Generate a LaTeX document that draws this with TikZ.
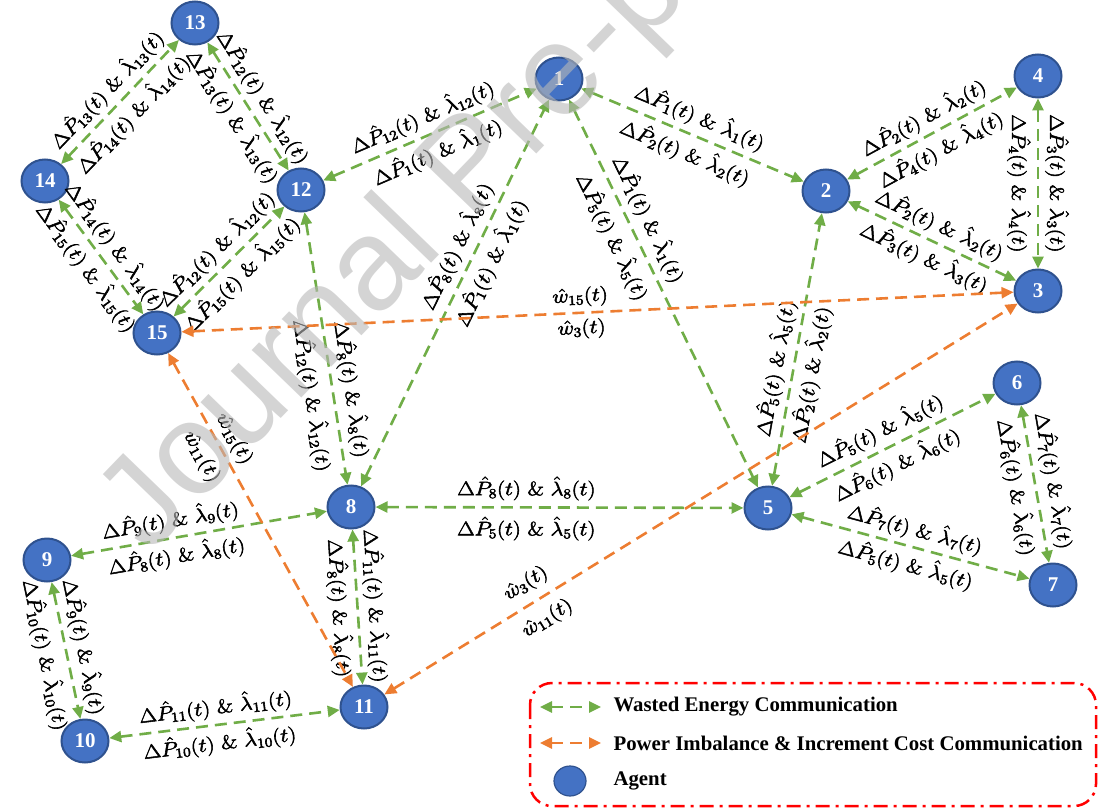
\RequirePackage{fix-cm}
\documentclass[tikz,border=0pt]{standalone}
\usepackage{fontspec}
\usetikzlibrary{arrows.meta,shapes.geometric}
\newfontfamily\numfont{Liberation Serif}
\newfontfamily\wmfont{Liberation Sans}

\definecolor{agentfill}{HTML}{4472C4}
\definecolor{agentline}{HTML}{2F528F}
\definecolor{wgreen}{HTML}{70AD47}
\definecolor{worange}{HTML}{ED7D31}
\definecolor{legred}{HTML}{FF0000}

% slightly heavier glyphs: fill and stroke the outlines
\newcommand\heavytext[1]{{\color{black}\special{pdf:literal direct 2 Tr 0.5 w}#1\special{pdf:literal direct 0 Tr 0.4 w}}}
% exchanged quantities on a link
\newcommand\dpl[1]{\heavytext{\scalebox{1.15}[1]{$\Delta\hat{P}_{#1}(t)\ \&\ \hat{\lambda}_{#1}(t)$}}}
\newcommand\wh[1]{\heavytext{\scalebox{1.15}[1]{$\hat{w}_{#1}(t)$}}}

\tikzset{
  agent/.style={ellipse, fill=agentfill, draw=agentline, line width=2pt,
    minimum width=47pt, minimum height=43pt, inner sep=0pt, text=white,
    font=\numfont\bfseries\fontsize{21}{21}\selectfont},
  gline/.style={draw=wgreen, line width=2.6pt, dash pattern=on 12pt off 7pt,
    {Triangle[length=12pt,width=11pt]}-{Triangle[length=12pt,width=11pt]}},
  oline/.style={gline, draw=worange},
  lab/.style={sloped, font=\fontsize{19.5}{22}\selectfont, inner sep=2pt},
  labv/.style={font=\fontsize{19.5}{22}\selectfont, inner sep=2pt},
  legtext/.style={anchor=west, font=\numfont\bfseries\fontsize{20.8}{22}\selectfont},
  wmark/.style={text=black!28, text opacity=0.6,
    font=\wmfont\fontsize{130}{130}\selectfont},
}

\begin{document}
\begin{tikzpicture}[x=1pt, y=-1pt]
\useasboundingbox (0,0) rectangle (1099,810);
\begin{scope}
\clip (0,0) rectangle (1099,810);

% agents
\node[agent] (n1)  at (559,79)  {1};
\node[agent] (n2)  at (826,191) {2};
\node[agent] (n3)  at (1038,291) {3};
\node[agent] (n4)  at (1038,76) {4};
\node[agent] (n5)  at (768,508) {5};
\node[agent] (n6)  at (1017,383) {6};
\node[agent] (n7)  at (1053,585) {7};
\node[agent] (n8)  at (351,507) {8};
\node[agent] (n9)  at (47,560)  {9};
\node[agent] (n10) at (85,741)  {10};
\node[agent] (n11) at (364,707) {11};
\node[agent] (n12) at (301,190) {12};
\node[agent] (n13) at (195,23)  {13};
\node[agent] (n14) at (45,181)  {14};
\node[agent] (n15) at (157,333) {15};

% wasted energy links
\draw[gline] (n14) -- node[lab,above=3pt]{\dpl{13}} node[lab,below=3pt]{\dpl{14}} (n13);
\draw[gline] (n13) -- node[lab,above=3pt]{\dpl{12}} node[lab,below=3pt]{\dpl{13}} (n12);
\draw[gline] (n14) -- node[lab,above=3pt]{\dpl{14}} node[lab,below=3pt]{\dpl{15}} (n15);
\draw[gline] (n15) -- node[lab,above=3pt]{\dpl{12}} node[lab,below=3pt]{\dpl{15}} (n12);
\draw[gline] (n12) -- node[lab,above=4pt]{\dpl{12}} node[lab,below=4pt]{\dpl{1}} (n1);
\draw[gline] (n12) -- node[lab,above=4pt,pos=.66]{\dpl{8}} node[lab,below=6pt,pos=.66]{\dpl{12}} (n8);
\draw[gline] (n8) -- node[lab,above=4pt,pos=.6]{\dpl{8}} node[lab,below=4pt,pos=.6]{\dpl{1}} (n1);
\draw[gline] (n1) -- node[lab,above=4pt,pos=.33]{\dpl{1}} node[lab,below=6pt,pos=.33]{\dpl{5}} (n5);
\draw[gline] (n1) -- node[lab,above=4pt]{\dpl{1}} node[lab,below=4pt]{\dpl{2}} (n2);
\draw[gline] (n2) -- node[lab,above=3pt]{\dpl{2}} node[lab,below=3pt]{\dpl{4}} (n4);
\draw[gline] (n2) -- node[lab,above=3pt]{\dpl{2}} node[lab,below=3pt]{\dpl{3}} (n3);
\draw[gline] (n4) -- node[labv,rotate=-90,above=4pt]{\dpl{3}} node[labv,rotate=-90,below=4pt]{\dpl{4}} (n3);
\draw[gline] (n5) -- node[lab,above=3pt,pos=.42]{\dpl{5}} node[lab,below=3pt,pos=.42]{\dpl{2}} (n2);
\draw[gline] (n5) -- node[lab,above=4pt,pos=.48]{\dpl{5}} node[lab,below=4pt,pos=.48]{\dpl{6}} (n6);
\draw[gline] (n6) -- node[lab,above=4pt]{\dpl{7}} node[lab,below=4pt]{\dpl{6}} (n7);
\draw[gline] (n5) -- node[lab,above=3pt]{\dpl{7}} node[lab,below=3pt]{\dpl{5}} (n7);
\draw[gline] (n8) -- node[lab,above=4pt,pos=.41]{\dpl{8}} node[lab,below=6pt,pos=.41]{\dpl{5}} (n5);
\draw[gline] (n9) -- node[lab,above=3pt,pos=.4]{\dpl{9}} node[lab,below=3pt,pos=.4]{\dpl{8}} (n8);
\draw[gline] (n9) -- node[lab,above=3pt]{\dpl{9}} node[lab,below=6pt]{\dpl{10}} (n10);
\draw[gline] (n10) -- node[lab,above=3pt,pos=.47]{\dpl{11}} node[lab,below=3pt,pos=.47]{\dpl{10}} (n11);
\draw[gline] (n8) -- node[lab,above=3pt]{\dpl{11}} node[lab,below=3pt]{\dpl{8}} (n11);

% power imbalance and increment cost links
\draw[oline] (n15) -- node[lab,above=3pt,pos=.48]{\wh{15}} node[lab,below=3pt,pos=.48]{\wh{3}} (n3);
\draw[oline] (n15) -- node[lab,above=3pt,pos=.28]{\wh{15}} node[lab,below=8pt,pos=.28]{\wh{11}} (n11);
\draw[oline] (n11) -- node[lab,above=7pt,pos=.24]{\wh{3}} node[lab,below=8pt,pos=.24]{\wh{11}} (n3);

% legend
\draw[legred, line width=2.5pt, dash pattern=on 14pt off 6pt on 3pt off 6pt,
  rounded corners=22pt] (530,683) rectangle (1096,806);
\coordinate (lga) at (540,707);
\coordinate (lgb) at (601,707);
\coordinate (lgc) at (540,743);
\coordinate (lgd) at (601,743);
\draw[gline] (lga) -- (lgb);
\draw[oline] (lgc) -- (lgd);
\node[legtext] (lt1) at (610,707) {Wasted Energy Communication};
\node[legtext] (lt2) at (610,743) {Power Imbalance \& Increment Cost Communication};
\node[agent, minimum width=32pt, minimum height=30pt, line width=1.2pt] (lgagent) at (570,781) {};
\node[legtext] (lt3) at (610,781) {Agent};

% watermark
\node[wmark, rotate=46, anchor=base west] (wm) at (147,558) {Journal Pre-proof};
\end{scope}
\end{tikzpicture}
\end{document}
